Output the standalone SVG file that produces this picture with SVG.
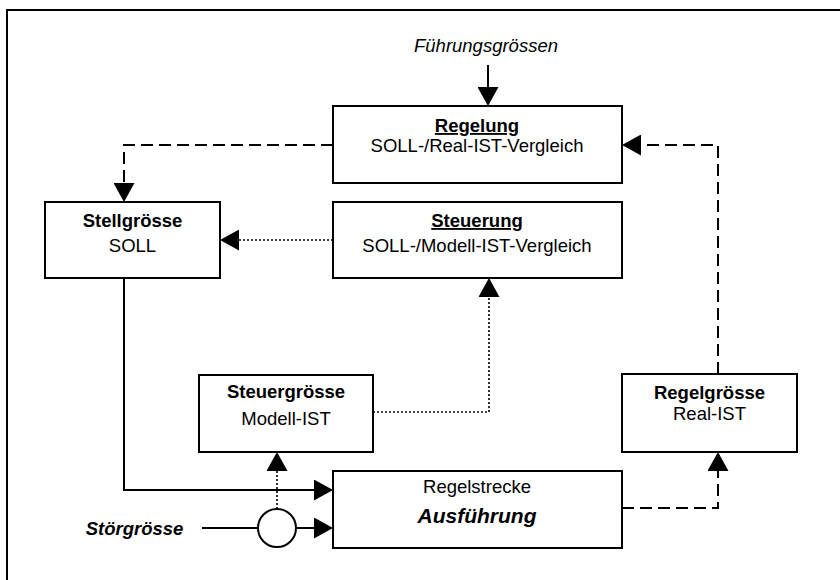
<svg xmlns="http://www.w3.org/2000/svg" width="840" height="580" viewBox="0 0 840 580">
<style>
  .box{fill:#fff;stroke:#000;stroke-width:2}
  .t{font-family:"Liberation Sans",Arial,sans-serif;font-size:18.5px;fill:#000;text-anchor:middle}
  .b{font-weight:bold}
  .i{font-style:italic}
  .u{text-decoration:underline}
  .solid{fill:none;stroke:#000;stroke-width:2}
  .dash{fill:none;stroke:#000;stroke-width:2;stroke-dasharray:12 6}
  .dot{fill:none;stroke:#000;stroke-width:1.6;stroke-dasharray:2 2}
</style>
<defs>
  <marker id="ah" markerUnits="userSpaceOnUse" viewBox="0 0 19 21" refX="9" refY="10.5" markerWidth="19" markerHeight="21" orient="auto">
    <path d="M0,0 L19,10.5 L0,21 Z" fill="#000" stroke="none"/>
  </marker>
</defs>
<rect width="840" height="580" fill="#fff"/>
<path d="M7,582 V10 H842" fill="none" stroke="#000" stroke-width="2"/>

<g id="connectors">
  <path class="solid" d="M488,65 V96" marker-end="url(#ah)"/>
  <path class="dash" d="M333,145 H124 V192" marker-end="url(#ah)"/>
  <path class="dot" d="M333,240 H230" marker-end="url(#ah)"/>
  <path class="solid" d="M124,278 V490 H323" marker-end="url(#ah)"/>
  <path class="dot" d="M373,412 H489 V288" marker-end="url(#ah)"/>
  <path class="solid" d="M202,528 H258"/>
  <path class="solid" d="M296,528 H323" marker-end="url(#ah)"/>
  <path class="dot" d="M277,509 V462" marker-end="url(#ah)"/>
  <path class="dash" d="M622,508 H718 V462" marker-end="url(#ah)"/>
  <path class="dash" d="M718,374 V145 H632" marker-end="url(#ah)"/>
</g>

<g id="fuehrungsgroessen">
  <text class="t i" x="486" y="52">Führungsgrössen</text>
</g>

<g id="regelung">
  <rect class="box" x="333" y="106" width="289" height="77"/>
  <text class="t b u" x="477" y="132">Regelung</text>
  <text class="t" x="477" y="152">SOLL-/Real-IST-Vergleich</text>
</g>

<g id="stellgroesse">
  <rect class="box" x="45" y="202" width="175" height="76"/>
  <text class="t b" x="132.5" y="227">Stellgrösse</text>
  <text class="t" x="132.5" y="252">SOLL</text>
</g>

<g id="steuerung">
  <rect class="box" x="333" y="202" width="289" height="76"/>
  <text class="t b u" x="477" y="227">Steuerung</text>
  <text class="t" x="477" y="252">SOLL-/Modell-IST-Vergleich</text>
</g>

<g id="steuergroesse">
  <rect class="box" x="199" y="375" width="174" height="77"/>
  <text class="t b" x="286" y="398">Steuergrösse</text>
  <text class="t" x="286" y="425">Modell-IST</text>
</g>

<g id="regelgroesse">
  <rect class="box" x="622" y="374" width="175" height="78"/>
  <text class="t b" x="709.5" y="399">Regelgrösse</text>
  <text class="t" x="709.5" y="420">Real-IST</text>
</g>

<g id="regelstrecke">
  <rect class="box" x="333" y="471" width="289" height="77"/>
  <text class="t" x="477" y="493">Regelstrecke</text>
  <text class="t b i" x="477" y="523" style="font-size:21px">Ausführung</text>
</g>

<g id="stoergroesse">
  <text class="t b i" x="134.5" y="535">Störgrösse</text>
</g>

<g id="summierer">
  <circle cx="277" cy="528" r="19" fill="#fff" stroke="#000" stroke-width="2"/>
</g>
</svg>
